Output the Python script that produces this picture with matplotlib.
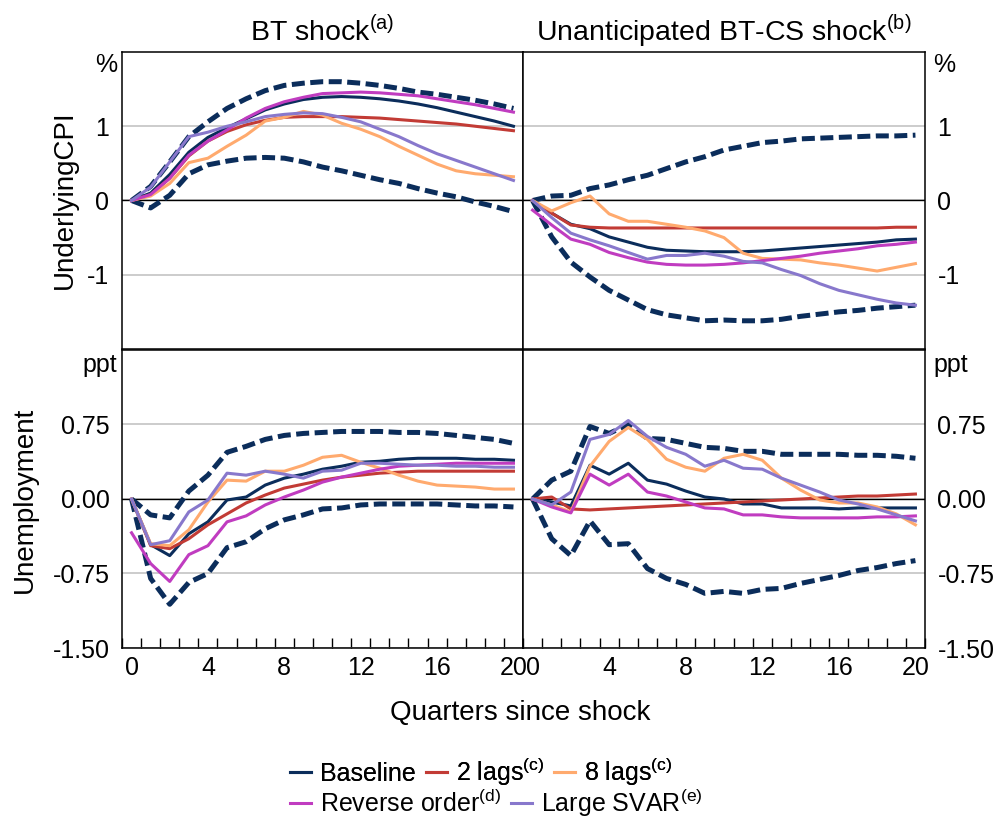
# ============================================================
# Impulse responses: BT shock vs unanticipated BT-CS shock
# Underlying CPI (%) and unemployment (ppt), robustness checks
# ============================================================

import matplotlib
matplotlib.use("Agg")
import matplotlib.pyplot as plt
import numpy as np

plt.rcParams["font.family"] = ["Liberation Sans", "DejaVu Sans"]
plt.rcParams["mathtext.fontset"] = "custom"
plt.rcParams["mathtext.rm"] = "Liberation Sans"

quarters = np.arange(21)

# ------------------------------------------------------------
# DATA
# ------------------------------------------------------------
# Top-left: underlying CPI, BT shock
cpi_bt_base  = [0, 0.10, 0.35, 0.65, 0.85, 0.98, 1.10, 1.22, 1.30, 1.36, 1.39, 1.40, 1.39, 1.37, 1.34, 1.30, 1.25, 1.19, 1.13, 1.07, 1.00]
cpi_bt_lag2  = [0, 0.08, 0.30, 0.60, 0.80, 0.93, 1.02, 1.08, 1.12, 1.13, 1.13, 1.13, 1.12, 1.11, 1.09, 1.07, 1.05, 1.03, 1.00, 0.97, 0.94]
cpi_bt_lag8  = [0, 0.06, 0.23, 0.51, 0.57, 0.73, 0.88, 1.07, 1.12, 1.20, 1.15, 1.04, 0.96, 0.86, 0.73, 0.61, 0.49, 0.40, 0.36, 0.34, 0.32]
cpi_bt_rev   = [0, 0.08, 0.30, 0.61, 0.80, 0.95, 1.11, 1.24, 1.33, 1.39, 1.44, 1.45, 1.46, 1.45, 1.43, 1.41, 1.37, 1.33, 1.29, 1.24, 1.19]
cpi_bt_large = [0, 0.18, 0.52, 0.86, 0.92, 1.00, 1.06, 1.13, 1.16, 1.18, 1.17, 1.12, 1.06, 0.96, 0.86, 0.74, 0.63, 0.54, 0.45, 0.36, 0.27]
cpi_bt_hi    = [0, 0.19, 0.52, 0.86, 1.06, 1.24, 1.37, 1.48, 1.55, 1.58, 1.60, 1.60, 1.58, 1.55, 1.51, 1.46, 1.43, 1.39, 1.35, 1.30, 1.24]
cpi_bt_lo    = [0, -0.10, 0.07, 0.36, 0.48, 0.53, 0.57, 0.58, 0.57, 0.52, 0.45, 0.40, 0.34, 0.28, 0.23, 0.16, 0.10, 0.05, -0.02, -0.08, -0.15]

# Top-right: underlying CPI, unanticipated BT-CS shock
cpi_cs_base  = [0, -0.17, -0.32, -0.38, -0.49, -0.56, -0.63, -0.67, -0.68, -0.69, -0.69, -0.69, -0.68, -0.66, -0.64, -0.62, -0.60, -0.58, -0.56, -0.53, -0.52]
cpi_cs_lag2  = [0, -0.17, -0.33, -0.36, -0.37, -0.37, -0.37, -0.37, -0.37, -0.37, -0.37, -0.37, -0.37, -0.37, -0.37, -0.37, -0.37, -0.37, -0.37, -0.36, -0.36]
cpi_cs_lag8  = [0, -0.14, -0.03, 0.06, -0.18, -0.28, -0.28, -0.32, -0.36, -0.41, -0.50, -0.71, -0.78, -0.79, -0.80, -0.84, -0.87, -0.91, -0.95, -0.90, -0.85]
cpi_cs_rev   = [-0.13, -0.33, -0.52, -0.59, -0.70, -0.77, -0.83, -0.86, -0.87, -0.87, -0.86, -0.84, -0.81, -0.78, -0.75, -0.71, -0.68, -0.65, -0.61, -0.59, -0.56]
cpi_cs_large = [0, -0.23, -0.44, -0.53, -0.61, -0.70, -0.79, -0.74, -0.74, -0.71, -0.75, -0.82, -0.84, -0.93, -1.01, -1.12, -1.21, -1.27, -1.33, -1.38, -1.41]
cpi_cs_hi    = [0, 0.06, 0.07, 0.16, 0.21, 0.28, 0.34, 0.43, 0.52, 0.59, 0.68, 0.73, 0.78, 0.80, 0.83, 0.84, 0.85, 0.86, 0.87, 0.87, 0.88]
cpi_cs_lo    = [0, -0.49, -0.83, -1.03, -1.21, -1.34, -1.47, -1.54, -1.58, -1.62, -1.61, -1.62, -1.62, -1.60, -1.56, -1.53, -1.50, -1.48, -1.45, -1.43, -1.41]

# Bottom-left: unemployment, BT shock
ur_bt_base  = [0, -0.46, -0.57, -0.35, -0.23, -0.01, 0.02, 0.14, 0.21, 0.25, 0.30, 0.33, 0.37, 0.38, 0.40, 0.41, 0.41, 0.41, 0.40, 0.40, 0.39]
ur_bt_lag2  = [0, -0.47, -0.50, -0.40, -0.26, -0.15, -0.04, 0.04, 0.11, 0.15, 0.19, 0.22, 0.24, 0.26, 0.27, 0.28, 0.28, 0.28, 0.28, 0.28, 0.28]
ur_bt_lag8  = [0, -0.45, -0.47, -0.31, -0.03, 0.19, 0.18, 0.28, 0.28, 0.34, 0.42, 0.44, 0.37, 0.31, 0.24, 0.18, 0.14, 0.13, 0.12, 0.10, 0.10]
ur_bt_rev   = [-0.34, -0.65, -0.83, -0.56, -0.47, -0.23, -0.17, -0.06, 0.02, 0.09, 0.17, 0.22, 0.26, 0.30, 0.33, 0.34, 0.35, 0.36, 0.36, 0.36, 0.36]
ur_bt_large = [0, -0.46, -0.42, -0.13, -0.01, 0.26, 0.24, 0.28, 0.25, 0.21, 0.28, 0.29, 0.36, 0.36, 0.35, 0.34, 0.34, 0.33, 0.33, 0.32, 0.32]
ur_bt_hi    = [0, -0.16, -0.19, 0.08, 0.24, 0.47, 0.53, 0.60, 0.64, 0.66, 0.67, 0.68, 0.68, 0.68, 0.67, 0.67, 0.66, 0.64, 0.62, 0.60, 0.56]
ur_bt_lo    = [0, -0.80, -1.06, -0.84, -0.75, -0.49, -0.43, -0.30, -0.21, -0.16, -0.10, -0.09, -0.06, -0.05, -0.05, -0.05, -0.05, -0.06, -0.07, -0.07, -0.08]

# Bottom-right: unemployment, unanticipated BT-CS shock
ur_cs_base  = [0, -0.03, -0.07, 0.34, 0.25, 0.36, 0.19, 0.15, 0.08, 0.02, 0.00, -0.05, -0.05, -0.09, -0.09, -0.09, -0.10, -0.09, -0.09, -0.09, -0.09]
ur_cs_lag2  = [0, 0.02, -0.10, -0.11, -0.10, -0.09, -0.08, -0.07, -0.06, -0.05, -0.04, -0.03, -0.02, -0.01, 0.00, 0.01, 0.02, 0.03, 0.03, 0.04, 0.05]
ur_cs_lag8  = [0, -0.06, -0.13, 0.33, 0.58, 0.72, 0.60, 0.40, 0.32, 0.28, 0.41, 0.45, 0.39, 0.21, 0.09, -0.01, -0.04, -0.04, -0.08, -0.15, -0.26]
ur_cs_rev   = [0, -0.08, -0.14, 0.25, 0.14, 0.25, 0.07, 0.03, -0.03, -0.09, -0.10, -0.16, -0.16, -0.18, -0.19, -0.19, -0.19, -0.19, -0.18, -0.18, -0.17]
ur_cs_large = [0, -0.06, 0.07, 0.60, 0.65, 0.79, 0.63, 0.52, 0.45, 0.33, 0.39, 0.31, 0.30, 0.21, 0.14, 0.07, -0.01, -0.05, -0.10, -0.16, -0.22]
ur_cs_hi    = [0, 0.19, 0.28, 0.73, 0.66, 0.75, 0.61, 0.60, 0.56, 0.52, 0.51, 0.48, 0.48, 0.45, 0.45, 0.45, 0.45, 0.44, 0.44, 0.43, 0.41]
ur_cs_lo    = [0, -0.40, -0.57, -0.22, -0.46, -0.45, -0.70, -0.80, -0.86, -0.95, -0.93, -0.95, -0.91, -0.90, -0.85, -0.81, -0.77, -0.72, -0.69, -0.65, -0.62]

series_names = ["Baseline", r"2 lags$^{\mathrm{(c)}}$", r"8 lags$^{\mathrm{(c)}}$",
                r"Reverse order$^{\mathrm{(d)}}$", r"Large SVAR$^{\mathrm{(e)}}$"]
series_colors = ["#0B2D5B", "#C23B35", "#FFAA6E", "#C03CC0", "#8878CC"]

cpi_ticks = [-1, 0, 1]
ur_ticks  = [-1.5, -0.75, 0, 0.75]
x_ticks   = [0, 4, 8, 12, 16, 20]

FS = 18

# ------------------------------------------------------------
# FIGURE + AXES
# ------------------------------------------------------------
fig = plt.figure(figsize=(10.04, 8.21), dpi=100)
W, H = 1004, 821

def px_axes(x0, y0, x1, y1):
    return fig.add_axes([x0 / W, 1 - y1 / H, (x1 - x0) / W, (y1 - y0) / H])

ax_tl = px_axes(122, 52, 523, 349)
ax_tr = px_axes(523, 52, 925, 349)
ax_bl = px_axes(122, 350, 523, 648)
ax_br = px_axes(523, 350, 925, 648)

panels = [
    (ax_tl, [cpi_bt_base, cpi_bt_lag2, cpi_bt_lag8, cpi_bt_rev, cpi_bt_large], cpi_bt_hi, cpi_bt_lo),
    (ax_tr, [cpi_cs_base, cpi_cs_lag2, cpi_cs_lag8, cpi_cs_rev, cpi_cs_large], cpi_cs_hi, cpi_cs_lo),
    (ax_bl, [ur_bt_base, ur_bt_lag2, ur_bt_lag8, ur_bt_rev, ur_bt_large], ur_bt_hi, ur_bt_lo),
    (ax_br, [ur_cs_base, ur_cs_lag2, ur_cs_lag8, ur_cs_rev, ur_cs_large], ur_cs_hi, ur_cs_lo),
]

handles = []
for ax, lines, hi, lo in panels:
    ax.axhline(0, color="black", lw=1.0, zorder=2)
    for band in (hi, lo):
        ax.plot(quarters, band, color="#0B2D5B", lw=3.6, dashes=(2.6, 1.1),
                dash_capstyle="butt", zorder=3)
    hs = []
    for vals, col, name in zip(lines, series_colors, series_names):
        h, = ax.plot(quarters, vals, color=col, lw=2.2, label=name, zorder=4)
        hs.append(h)
    if not handles:
        handles = hs
    ax.set_xlim(-0.5, 20.5)
    for s in ax.spines.values():
        s.set_linewidth(1.1)
        s.set_color("black")

# y axes
for ax in (ax_tl, ax_tr):
    ax.set_ylim(-2, 2)
    ax.set_yticks(cpi_ticks)
    ax.set_yticklabels([str(t) for t in cpi_ticks])
for ax in (ax_bl, ax_br):
    ax.set_ylim(-1.5, 1.5)
    ax.set_yticks(ur_ticks)
    ax.set_yticklabels([f"{t:.2f}" for t in ur_ticks])

for ax in (ax_tl, ax_tr, ax_bl, ax_br):
    ax.set_axisbelow(True)
    ax.grid(axis="y", color="#C4C4C4", lw=1.2)
    ax.tick_params(axis="y", length=0, labelsize=FS, pad=9)

for ax in (ax_tr, ax_br):
    ax.yaxis.tick_right()

# x axes
for ax in (ax_tl, ax_tr):
    ax.set_xticks([])
for ax in (ax_bl, ax_br):
    ax.set_xticks(x_ticks)
    ax.set_xticklabels([str(t) for t in x_ticks])
    ax.set_xticks(np.arange(-0.5, 21, 1), minor=True)
    ax.tick_params(axis="x", which="major", length=0, labelsize=FS, pad=6)
    ax.tick_params(axis="x", which="minor", direction="in", length=7, width=1.0)

# units
ax_tl.text(-0.012, 0.955, "%", transform=ax_tl.transAxes, ha="right", va="center", fontsize=FS)
ax_tr.text(1.02, 0.955, "%", transform=ax_tr.transAxes, ha="left", va="center", fontsize=FS)
ax_bl.text(-0.012, 0.95, "ppt", transform=ax_bl.transAxes, ha="right", va="center", fontsize=FS)
ax_br.text(1.02, 0.95, "ppt", transform=ax_br.transAxes, ha="left", va="center", fontsize=FS)

# titles and labels
ax_tl.set_title(r"BT shock$^{\mathrm{(a)}}$", fontsize=20.5, pad=8)
ax_tr.set_title(r"Unanticipated BT-CS shock$^{\mathrm{(b)}}$", fontsize=20.5, pad=8)
fig.text(65 / W, 1 - 200 / H, "UnderlyingCPI", rotation=90, ha="center", va="center", fontsize=20)
fig.text(25 / W, 1 - 500 / H, "Unemployment", rotation=90, ha="center", va="center", fontsize=20)
fig.text(520 / W, 1 - 713 / H, "Quarters since shock", ha="center", va="center", fontsize=20)

# ------------------------------------------------------------
# LEGEND (two left-aligned rows)
# ------------------------------------------------------------
leg_kw = dict(frameon=False, fontsize=FS, handlelength=0.85, handletextpad=0.35,
              columnspacing=0.4, borderpad=0, borderaxespad=0, loc="center left")
leg1 = fig.legend(handles[:3], series_names[:3], ncol=3,
                  bbox_to_anchor=(290 / W, 1 - 772 / H), **leg_kw)
fig.add_artist(leg1)
fig.legend(handles[3:], series_names[3:], ncol=2,
           bbox_to_anchor=(290 / W, 1 - 803 / H), **leg_kw)

plt.savefig("out.png", dpi=100)
